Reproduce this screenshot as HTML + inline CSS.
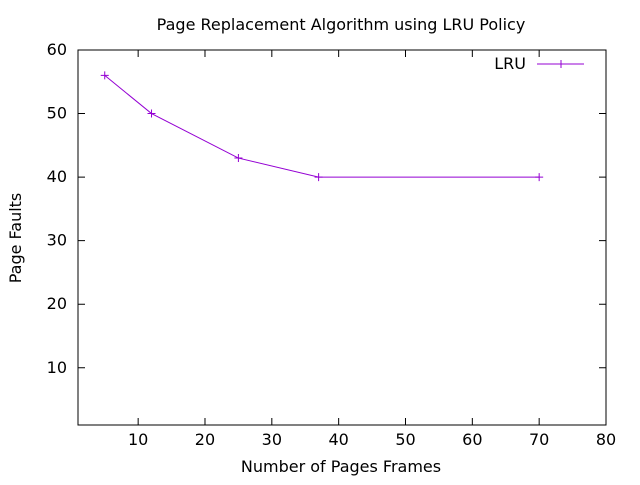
<!DOCTYPE html>
<html><head><meta charset="utf-8"><style>
body{margin:0;background:#fff;width:640px;height:480px;overflow:hidden}
svg text{font-family:"DejaVu Sans","Liberation Sans",sans-serif;font-size:16px;fill:#000}
</style></head><body>
<svg id="chart" width="640" height="480">
<text x="341" y="30" text-anchor="middle">Page Replacement Algorithm using LRU Policy</text>
<text x="341" y="472" text-anchor="middle">Number of Pages Frames</text>
<text transform="translate(21,238) rotate(-90)" text-anchor="middle">Page Faults</text>
<g id="axes"></g>
<g id="series"></g>
<text x="526" y="69" text-anchor="end">LRU</text>
<line x1="537" y1="64" x2="584" y2="64" stroke="#9400d3" stroke-width="1"/>
<path d="M561,60v8M557,64h8" stroke="#9400d3" fill="none"/>
</svg>
<script>
const frames=[5,12,25,37,70];
const faults=[56,50,43,40,40];
const xTicks=[10,20,30,40,50,60,70,80];
const yTicks=[10,20,30,40,50,60];
const L=78,R=606,T=50,B=425,xMin=1,xMax=80,yMin=1,yMax=60;
const sx=v=>L+(v-xMin)*(R-L)/(xMax-xMin);
const sy=v=>B-(v-yMin)*(B-T)/(yMax-yMin);
const NS="http://www.w3.org/2000/svg";
const ax=document.getElementById('axes'),se=document.getElementById('series');
function mk(tag,attrs,parent){const e=document.createElementNS(NS,tag);for(const k in attrs)e.setAttribute(k,attrs[k]);parent.appendChild(e);return e;}
const fr=mk('rect',{x:L,y:T,width:R-L,height:B-T,fill:'none',stroke:'#000'},ax);


xTicks.forEach(t=>{const x=sx(t);
 mk('path',{d:`M${x},${B}v-7M${x},${T}v7`,stroke:'#000'},ax);
 const tx=mk('text',{x:x,y:B+20,'text-anchor':'middle'},ax);tx.textContent=t;
 
 });
yTicks.forEach(t=>{const y=sy(t);
 mk('path',{d:`M${L},${y}h7M${R},${y}h-7`,stroke:'#000'},ax);
 const tx=mk('text',{x:L-11,y:y+5,'text-anchor':'end'},ax);tx.textContent=t;
 
 });
const pts=frames.map((f,i)=>sx(f)+','+sy(faults[i])).join(' ');
const pl=mk('polyline',{points:pts,fill:'none',stroke:'#9400d3','stroke-width':1},se);


frames.forEach((f,i)=>{const x=sx(f),y=sy(faults[i]);
 const m=mk('path',{d:`M${x-4},${y}h8M${x},${y-4}v8`,stroke:'#9400d3',fill:'none'},se);
 
 });
</script>
</body></html>
